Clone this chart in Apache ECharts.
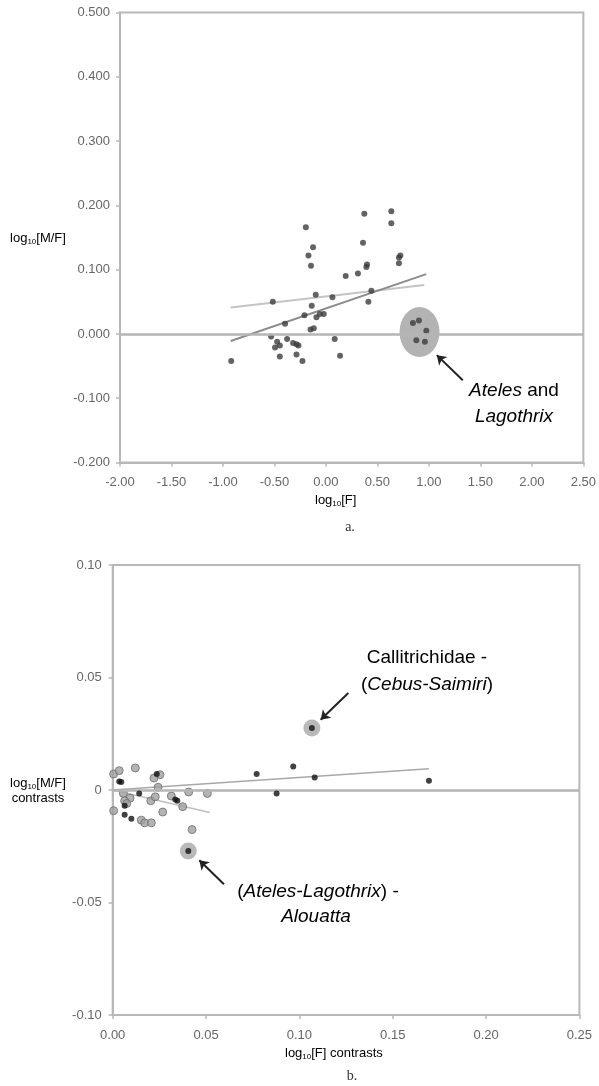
<!DOCTYPE html>
<html>
<head>
<meta charset="utf-8">
<script src="https://cdn.jsdelivr.net/npm/echarts@6/dist/echarts.min.js"></script>
<style>
  html, body { margin: 0; padding: 0; background: #fff; }
  #chart { width: 599px; height: 1086px; }
</style>
</head>
<body>
<div id="chart"></div>
<script>
// panel a: log10[F] vs log10[M/F] per species
const aLogF = [-0.195, -0.125, -0.17, -0.145, 0.192, 0.311, -0.516, -0.099, 0.063, -0.138,
  -0.209, -0.092, -0.06, -0.021, -0.397, -0.15, -0.118, -0.532, -0.474, -0.448,
  -0.494, -0.377, -0.319, -0.286, -0.267, -0.448, -0.286, -0.228, 0.085, 0.137,
  -0.92, 0.373, 0.635, 0.635, 0.36, 0.723, 0.709, 0.709, 0.399, 0.393, 0.441, 0.412];
const aLogMF = [0.166, 0.135, 0.122, 0.106, 0.090, 0.094, 0.050, 0.061, 0.057, 0.044,
  0.029, 0.026, 0.031, 0.031, 0.016, 0.007, 0.009, -0.004, -0.012, -0.018,
  -0.021, -0.008, -0.014, -0.016, -0.018, -0.035, -0.032, -0.042, -0.008, -0.034,
  -0.042, 0.187, 0.191, 0.172, 0.142, 0.122, 0.119, 0.110, 0.108, 0.104, 0.067, 0.050];
// Ateles and Lagothrix cluster
const ateLogF = [0.845, 0.903, 0.975, 0.878, 0.961];
const ateLogMF = [0.017, 0.021, 0.005, -0.010, -0.012];
const ateCenter = [0.909, 0.003];
// fitted lines (end points)
const aFitF = [-0.925, 0.974];
const aFitMF = [-0.011, 0.093];
const aFit2F = [-0.925, 0.955];
const aFit2MF = [0.041, 0.076];

// panel b: contrasts
const bGreyF = [0.0005, 0.0035, 0.0121, 0.0253, 0.0221, 0.0243, 0.0057, 0.0407, 0.0507, 0.0093,
  0.0064, 0.0075, 0.0204, 0.0228, 0.0314, 0.0375, 0.0005, 0.0268, 0.0153, 0.0171, 0.0207, 0.0425];
const bGreyMF = [0.0071, 0.0086, 0.0098, 0.0068, 0.0053, 0.0012, -0.0015, -0.0009, -0.0015, -0.0036,
  -0.0048, -0.006, -0.0048, -0.003, -0.0027, -0.0074, -0.0092, -0.0098, -0.0134, -0.0146, -0.0146, -0.0176];
const bDarkF = [0.0236, 0.0035, 0.0046, 0.0142, 0.0064, 0.0335, 0.0346, 0.0064, 0.0100,
  0.0771, 0.0967, 0.0878, 0.1082, 0.1694];
const bDarkMF = [0.0071, 0.0038, 0.0036, -0.0015, -0.007, -0.0042, -0.0048, -0.011, -0.0128,
  0.0071, 0.0105, -0.0015, 0.0056, 0.0041];
const bHaloF = [0.1067, 0.0405];
const bHaloMF = [0.0276, -0.0271];
const bFitF = [0, 0.1694];
const bFitMF = [0, 0.0094];
const bFit2F = [0, 0.052];
const bFit2MF = [0, -0.010];

// axis ranges
const aX = { min: -2, max: 2.5, interval: 0.5 };
const aY = { min: -0.2, max: 0.5, interval: 0.1 };
const bX = { min: 0, max: 0.25, interval: 0.05 };
const bY = { min: -0.1, max: 0.1, interval: 0.05 };

const pairs = (xs, ys) => xs.map((x, i) => [x, ys[i]]);

const AXIS = '#b8b8b8';
const LABEL = '#666';
const FONT = '"Liberation Sans", Arial, sans-serif';

function axis(range, fmt, margin, gridIndex) {
  return {
    type: 'value', gridIndex: gridIndex,
    min: range.min, max: range.max, interval: range.interval,
    axisLine: { show: true, onZero: false, lineStyle: { color: AXIS, width: 2 } },
    axisTick: { show: true, length: 4, lineStyle: { color: AXIS, width: 1.5 } },
    splitLine: { show: false },
    axisLabel: { color: LABEL, fontSize: 13, fontFamily: FONT, margin: margin, formatter: fmt }
  };
}

let myChart = echarts.init(document.getElementById('chart'));

const sub = {
  m: { fontSize: 13, fontFamily: FONT, color: '#555', lineHeight: 16, verticalAlign: 'middle' },
  s: { fontSize: 8, fontFamily: FONT, color: '#555', lineHeight: 16, verticalAlign: 'bottom' }
};
const note = {
  r: { fontSize: 19, fontFamily: FONT, color: '#3a3a3a' },
  i: { fontSize: 19, fontFamily: FONT, color: '#3a3a3a', fontStyle: 'italic' }
};

function textEl(x, y, text, rich, align) {
  return {
    type: 'text', x: x, y: y, silent: true,
    style: { text: text, rich: rich, align: align || 'center', verticalAlign: 'middle' }
  };
}

myChart.setOption({
  animation: false,
  grid: [
    { left: 120, right: 15, top: 12.5, height: 450, show: true, borderColor: AXIS, borderWidth: 2 },
    { left: 112.7, right: 19.6, top: 565, height: 450, show: true, borderColor: AXIS, borderWidth: 2 }
  ],
  xAxis: [
    axis(aX, v => v.toFixed(2), 13, 0),
    axis(bX, v => v.toFixed(2), 14, 1)
  ],
  yAxis: [
    axis(aY, v => v.toFixed(3), 10, 0),
    axis(bY, v => Math.abs(v) < 1e-9 ? '0' : v.toFixed(2), 11, 1)
  ],
  graphic: [
    textEl(38, 238, '{m|log}{s|10}{m|[M/F]}', sub),
    textEl(315, 500, '{m|log}{s|10}{m|[F]}', sub, 'left'),
    { type: 'text', x: 350, y: 527, silent: true,
      style: { text: 'a.', font: '14px "Liberation Serif", serif', fill: '#333', align: 'center', verticalAlign: 'middle' } },
    textEl(514, 391, '{i|Ateles}{r| and}', note),
    textEl(514, 417, '{i|Lagothrix}', note),

    textEl(38, 783, '{m|log}{s|10}{m|[M/F]}', sub),
    textEl(38, 798, '{m|contrasts}', sub),
    textEl(285, 1053, '{m|log}{s|10}{m|[F] contrasts}', sub, 'left'),
    { type: 'text', x: 352, y: 1076, silent: true,
      style: { text: 'b.', font: '14px "Liberation Serif", serif', fill: '#333', align: 'center', verticalAlign: 'middle' } },
    textEl(427, 658, '{r|Callitrichidae -}', note),
    textEl(427, 685, '{r|(}{i|Cebus-Saimiri}{r|)}', note),
    textEl(318, 892, '{r|(}{i|Ateles-Lagothrix}{r|) -}', note),
    textEl(316, 917, '{i|Alouatta}', note)
  ],
  series: [
    // ---- panel a ----
    {
      type: 'scatter', xAxisIndex: 0, yAxisIndex: 0, silent: true, z: 1,
      data: [ateCenter], symbolSize: [40, 50], itemStyle: { color: '#a0a0a0' },
      markLine: {
        silent: true, symbol: 'none', label: { show: false },
        lineStyle: { color: '#b5b5b5', width: 2.5, type: 'solid' },
        data: [{ yAxis: 0 }]
      }
    },
    {
      type: 'line', xAxisIndex: 0, yAxisIndex: 0, silent: true, showSymbol: false, z: 2,
      data: pairs(aFit2F, aFit2MF), lineStyle: { color: '#c4c4c4', width: 2 }
    },
    {
      type: 'line', xAxisIndex: 0, yAxisIndex: 0, silent: true, showSymbol: false, z: 2,
      data: pairs(aFitF, aFitMF), lineStyle: { color: '#8c8c8c', width: 2 }
    },
    {
      type: 'scatter', xAxisIndex: 0, yAxisIndex: 0, silent: true, z: 3,
      data: pairs(aLogF, aLogMF).concat(pairs(ateLogF, ateLogMF)),
      symbolSize: 6, itemStyle: { color: '#3c3c3c' }
    },
    {
      type: 'line', xAxisIndex: 0, yAxisIndex: 0, silent: true, data: [], z: 4,
      markLine: {
        silent: true, symbol: ['none', 'arrow'], symbolSize: 9, label: { show: false },
        lineStyle: { color: '#222', width: 2, type: 'solid' },
        data: [[{ coord: [1.329, -0.072] }, { coord: [1.077, -0.033] }]]
      }
    },
    // ---- panel b ----
    {
      type: 'line', xAxisIndex: 1, yAxisIndex: 1, silent: true, data: [], z: 1,
      markLine: {
        silent: true, symbol: 'none', label: { show: false },
        lineStyle: { color: '#b5b5b5', width: 2.5, type: 'solid' },
        data: [{ yAxis: 0 }]
      }
    },
    {
      type: 'line', xAxisIndex: 1, yAxisIndex: 1, silent: true, showSymbol: false, z: 2,
      data: pairs(bFit2F, bFit2MF), lineStyle: { color: '#c0c0c0', width: 1.5 }
    },
    {
      type: 'line', xAxisIndex: 1, yAxisIndex: 1, silent: true, showSymbol: false, z: 2,
      data: pairs(bFitF, bFitMF), lineStyle: { color: '#a8a8a8', width: 1.5 }
    },
    {
      type: 'scatter', xAxisIndex: 1, yAxisIndex: 1, silent: true, z: 3,
      data: pairs(bHaloF, bHaloMF), symbolSize: 17, itemStyle: { color: '#a8a8a8' }
    },
    {
      type: 'scatter', xAxisIndex: 1, yAxisIndex: 1, silent: true, z: 4,
      data: pairs(bGreyF, bGreyMF), symbolSize: 8,
      itemStyle: { color: '#a0a0a0', borderColor: '#6e6e6e', borderWidth: 1 }
    },
    {
      type: 'scatter', xAxisIndex: 1, yAxisIndex: 1, silent: true, z: 5,
      data: pairs(bDarkF, bDarkMF).concat(pairs(bHaloF, bHaloMF)), symbolSize: 6,
      itemStyle: { color: '#111' }
    },
    {
      type: 'line', xAxisIndex: 1, yAxisIndex: 1, silent: true, data: [], z: 6,
      markLine: {
        silent: true, symbol: ['none', 'arrow'], symbolSize: 9, label: { show: false },
        lineStyle: { color: '#222', width: 2, type: 'solid' },
        data: [
          [{ coord: [0.1262, 0.0431] }, { coord: [0.1114, 0.0312] }],
          [{ coord: [0.0596, -0.0419] }, { coord: [0.0464, -0.0312] }]
        ]
      }
    }
  ]
});
</script>
</body>
</html>
